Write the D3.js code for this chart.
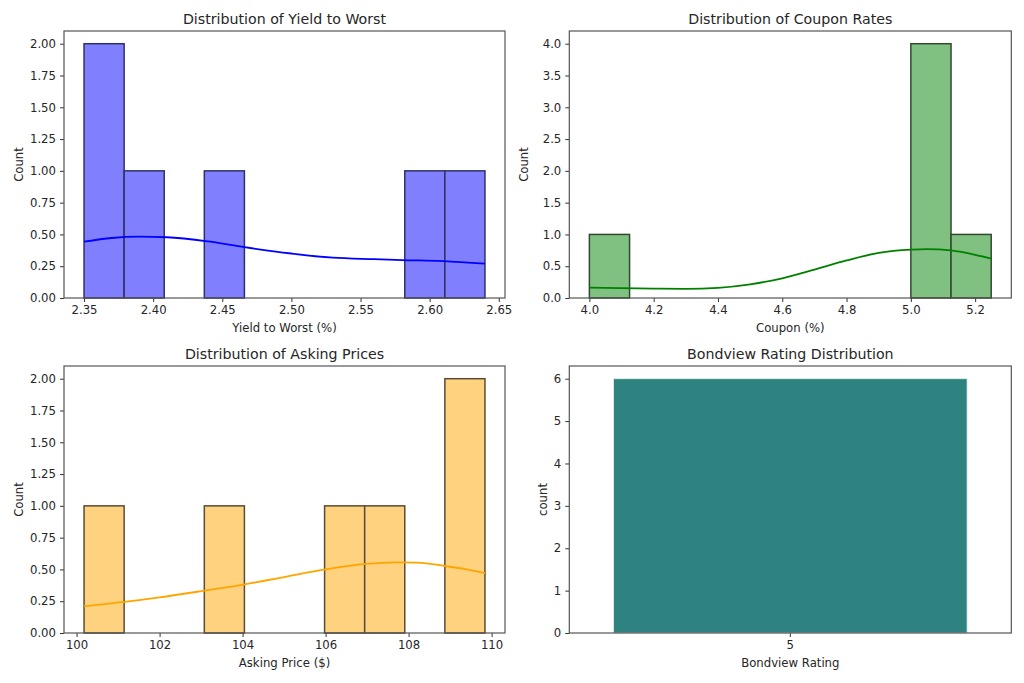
<!DOCTYPE html>
<html><head><meta charset="utf-8">
<script src="https://cdn.jsdelivr.net/npm/d3@7"></script>
<style>
body{margin:0;background:#fff}
svg text{font-family:"DejaVu Sans",sans-serif;fill:#262626}
</style>
</head><body><svg id="c" width="1024" height="683"></svg>
<script>
// ---- Yield to Worst ----
const ytwRange = [2.35, 2.64];
const ytwCounts = [2, 1, 0, 1, 0, 0, 0, 0, 1, 1];
const ytwKde = [[2.35,0.443],[2.37,0.472],[2.39,0.482],[2.41,0.478],[2.44,0.445],[2.466,0.40],[2.50,0.35],[2.53,0.317],[2.56,0.305],[2.58,0.298],[2.61,0.29],[2.64,0.27]];
const ytwXTicks = [2.35, 2.40, 2.45, 2.50, 2.55, 2.60, 2.65];
const ytwYTicks = [0, 0.25, 0.5, 0.75, 1.0, 1.25, 1.5, 1.75, 2.0];

// ---- Coupon ----
const cpnRange = [4.0, 5.25];
const cpnCounts = [1, 0, 0, 0, 0, 0, 0, 0, 4, 1];
const cpnKde = [[4.0,0.162],[4.1,0.155],[4.2,0.148],[4.3,0.144],[4.4,0.16],[4.5,0.215],[4.6,0.31],[4.7,0.445],[4.8,0.59],[4.9,0.71],[5.0,0.762],[5.05,0.77],[5.125,0.748],[5.2,0.68],[5.25,0.62]];
const cpnXTicks = [4.0, 4.2, 4.4, 4.6, 4.8, 5.0, 5.2];
const cpnYTicks = [0, 0.5, 1.0, 1.5, 2.0, 2.5, 3.0, 3.5, 4.0];

// ---- Asking Price ----
const askRange = [100.18, 109.84];
const askCounts = [1, 0, 0, 1, 0, 0, 1, 1, 0, 2];
const askKde = [[100.18,0.21],[101.15,0.244],[102.0,0.28],[103.08,0.333],[104.05,0.383],[105.0,0.44],[106.0,0.50],[106.97,0.543],[107.7,0.556],[108.2,0.553],[108.88,0.527],[109.4,0.50],[109.84,0.47]];
const askXTicks = [100, 102, 104, 106, 108, 110];
const askYTicks = [0, 0.25, 0.5, 0.75, 1.0, 1.25, 1.5, 1.75, 2.0];

// ---- Bondview Rating ----
const ratingCats = ["5"];
const ratingCounts = [6];
const ratingYTicks = [0, 1, 2, 3, 4, 5, 6];

const svg = d3.select("#c");
const FT = 11.7, FTitle = 14.2;

function frame(g, W, H, title, xlab, ylab, ylabX) {
  g.append("text").attr("x", W/2).attr("y", -7).attr("text-anchor","middle")
    .style("font-size", FTitle+"px").text(title);
  g.append("text").attr("x", W/2).attr("y", H + 34).attr("text-anchor","middle")
    .style("font-size", FT+"px").text(xlab);
  g.append("text").attr("transform", `translate(${ylabX},${H/2}) rotate(-90)`)
    .attr("text-anchor","middle").style("font-size", FT+"px").text(ylab);
}
function styleAxis(a) {
  a.select(".domain").remove();
  a.selectAll(".tick line").attr("stroke","#333").attr("stroke-width",1);
  a.selectAll(".tick text").style("font-size", FT+"px").attr("fill","#262626");
}
function spines(g, W, H) {
  g.append("rect").attr("x",0).attr("y",0).attr("width",W).attr("height",H)
    .attr("fill","none").attr("stroke","#555").attr("stroke-width",1.2);
}

function hist(box, range, counts, kde, xTicks, yTicks, yMax, fmtX, fmtY, fill, edge, line, title, xlab) {
  const W = box.r - box.l, H = box.b - box.t;
  const g = svg.append("g").attr("transform", `translate(${box.l},${box.t})`);
  const span = range[1] - range[0];
  const x = d3.scaleLinear().domain([range[0] - 0.05*span, range[1] + 0.05*span]).range([0, W]);
  const y = d3.scaleLinear().domain([0, yMax]).range([H, 0]);
  const bw = span / counts.length;
  const bins = counts.map((c, i) => ({x0: range[0] + i*bw, x1: range[0] + (i+1)*bw, c}));
  g.selectAll("rect.bar").data(bins.filter(d => d.c > 0)).join("rect").attr("class","bar")
    .attr("x", d => x(d.x0)).attr("width", d => x(d.x1) - x(d.x0))
    .attr("y", d => y(d.c)).attr("height", d => y(0) - y(d.c))
    .attr("fill", fill).attr("stroke", edge).attr("stroke-width", 1.5);
  g.append("path").datum(kde)
    .attr("d", d3.line().x(d => x(d[0])).y(d => y(d[1])).curve(d3.curveMonotoneX))
    .attr("fill","none").attr("stroke", line).attr("stroke-width", 1.8);
  const ax = g.append("g").attr("transform", `translate(0,${H})`)
    .call(d3.axisBottom(x).tickValues(xTicks).tickFormat(fmtX).tickSizeOuter(0).tickSize(4).tickPadding(4));
  styleAxis(ax);
  const ay = g.append("g").call(d3.axisLeft(y).tickValues(yTicks).tickFormat(fmtY).tickSizeOuter(0).tickSize(4).tickPadding(4));
  styleAxis(ay);
  spines(g, W, H);
  frame(g, W, H, title, xlab, "Count", -41);
}

const L1 = 64, R1 = 505, L2 = 569.3, R2 = 1011.3;
const T1 = 31, B1 = 298, T2 = 366, B2 = 633;

hist({l:L1, r:R1, t:T1, b:B1}, ytwRange, ytwCounts, ytwKde, ytwXTicks, ytwYTicks, 2.1,
  d3.format(".2f"), d3.format(".2f"), "#8080ff", "#303068", "#0000ff",
  "Distribution of Yield to Worst", "Yield to Worst (%)");
hist({l:L2, r:R2, t:T1, b:B1}, cpnRange, cpnCounts, cpnKde, cpnXTicks, cpnYTicks, 4.2,
  d3.format(".1f"), d3.format(".1f"), "#80c080", "#304a30", "#008000",
  "Distribution of Coupon Rates", "Coupon (%)");
hist({l:L1, r:R1, t:T2, b:B2}, askRange, askCounts, askKde, askXTicks, askYTicks, 2.1,
  d3.format("d"), d3.format(".2f"), "#ffd280", "#5a4c34", "#ffa500",
  "Distribution of Asking Prices", "Asking Price ($)");

// Bar chart (countplot)
(function(){
  const W = R2 - L2, H = B2 - T2;
  const g = svg.append("g").attr("transform", `translate(${L2},${T2})`);
  const x = d3.scaleBand().domain(ratingCats).range([0, W]).paddingInner(0.2).paddingOuter(0.1);
  const y = d3.scaleLinear().domain([0, 6.3]).range([H, 0]);
  g.selectAll("rect.bar").data(ratingCats.map((c,i) => ({c, v: ratingCounts[i]}))).join("rect")
    .attr("class","bar").attr("x", d => x(d.c)).attr("width", x.bandwidth())
    .attr("y", d => y(d.v)).attr("height", d => y(0) - y(d.v))
    .attr("fill", "#2e8380").attr("stroke","#e8f2f1").attr("stroke-width",0.8);
  const ax = g.append("g").attr("transform", `translate(0,${H})`)
    .call(d3.axisBottom(x).tickSizeOuter(0).tickSize(4).tickPadding(4));
  styleAxis(ax);
  const ay = g.append("g").call(d3.axisLeft(y).tickValues(ratingYTicks).tickFormat(d3.format("d")).tickSizeOuter(0).tickSize(4).tickPadding(4));
  styleAxis(ay);
  spines(g, W, H);
  frame(g, W, H, "Bondview Rating Distribution", "Bondview Rating", "count", -22);
})();
</script>
</body></html>
